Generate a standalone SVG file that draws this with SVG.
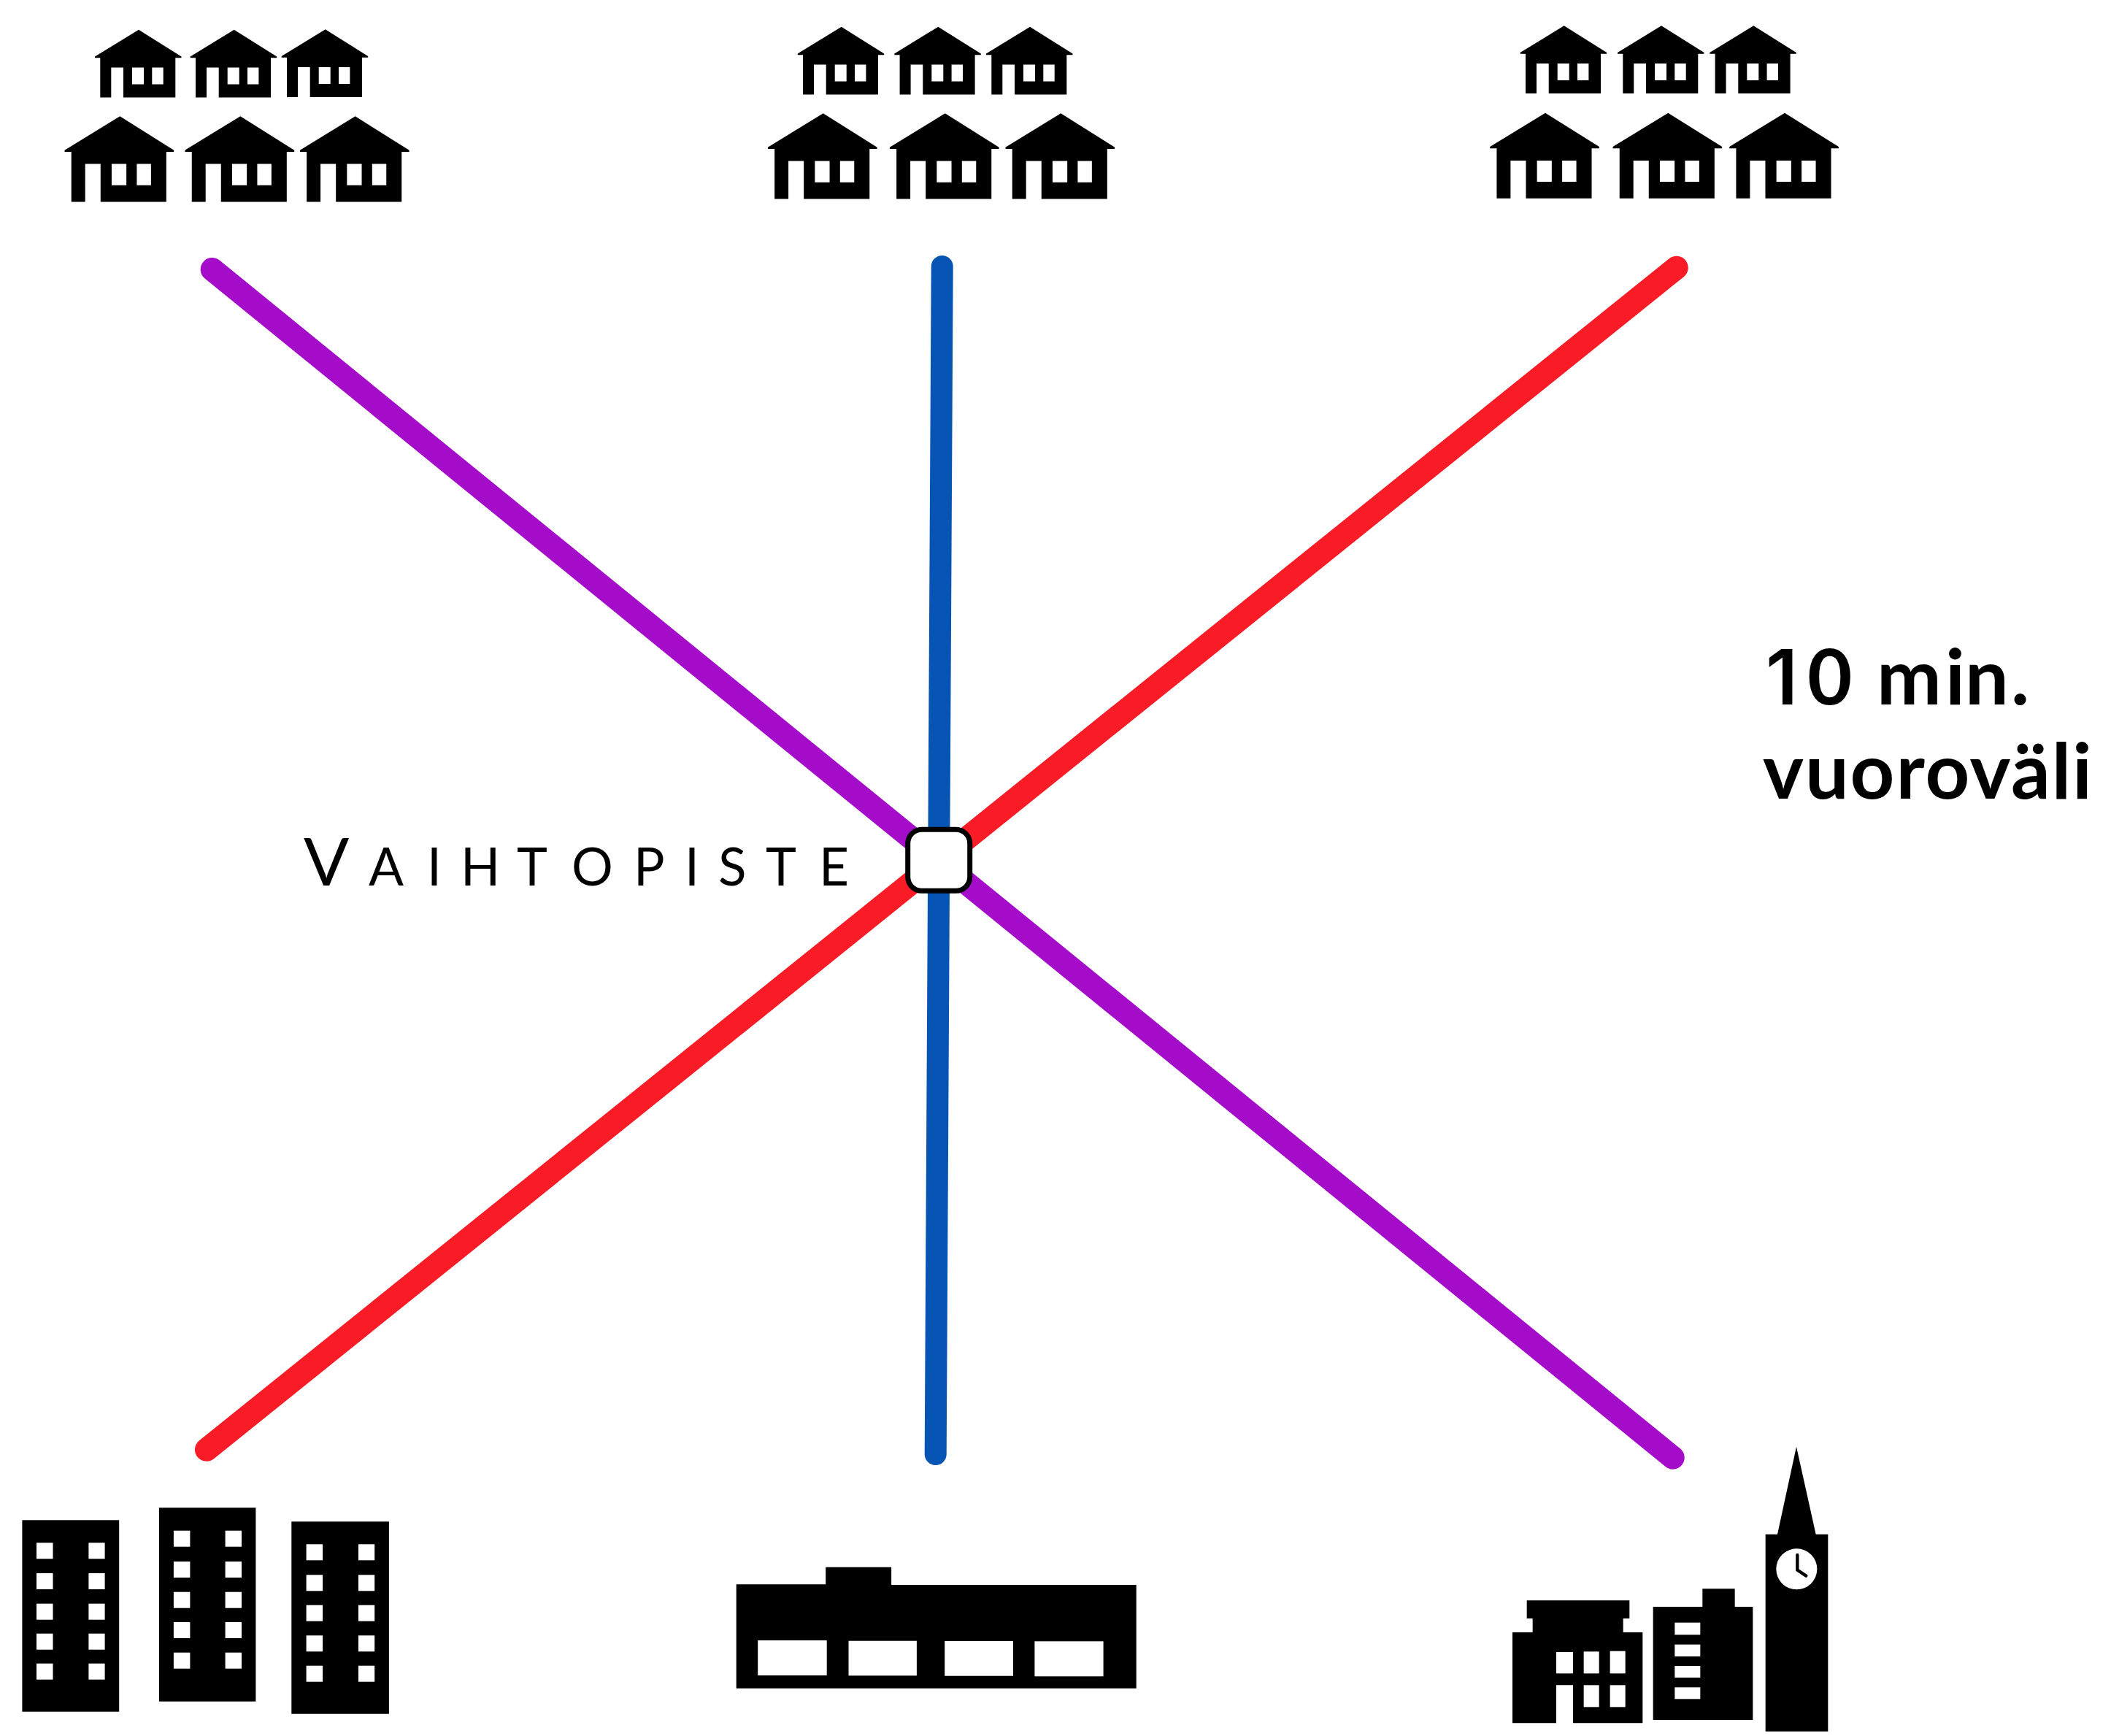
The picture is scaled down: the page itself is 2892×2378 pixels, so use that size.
<svg xmlns="http://www.w3.org/2000/svg" width="2892" height="2378" viewBox="0 0 2892 2378">
<style>
.k{fill:#000}
.w{fill:#fff}
.line{fill:none;stroke-width:32;stroke-linecap:round}
.lab{font-family:"Lato","Noto Sans",sans-serif;fill:#000}
.big{font-weight:700;font-size:106px}
.cap{font-size:71px;font-weight:400}
</style>
<defs>
<path id="house" fill-rule="evenodd" d="M0 0L58.5 36.7V38.5H50.3V92.7H-21V51.7H-37.7V92.7H-52.7V38.5H-60V36.7ZM-9 51.7V74.7H7V51.7ZM18.3 51.7V74.7H33.7V51.7Z"/>
</defs>
<rect width="2892" height="2378" fill="#fff"/>
<g id="connectors">
<line class="line" stroke="#a50cc9" x1="290.7" y1="369" x2="2291.7" y2="1996.7"/>
<line class="line" stroke="#f91b26" x1="2296.7" y1="366.7" x2="283" y2="1985.7"/>
<line class="line" style="stroke-width:30" stroke="#0654b4" x1="1290.7" y1="365" x2="1281.7" y2="1992"/>
</g>
<g id="station">
<rect x="1243.7" y="1136.3" width="85" height="84" rx="19" fill="#fff" stroke="#000" stroke-width="7"/>
</g>
<text id="station-label" class="lab cap" y="1213" x="416 505 585 631 708 783 868 938 984 1049 1122"><tspan font-size="92">V</tspan>AIHTOPISTE</text>
<g id="interval-label" class="lab big">
<text y="965"><tspan x="2419" font-family="Inter, sans-serif" font-weight="600" font-size="104">1</tspan><tspan x="2476 2560 2571 2665 2692 2755">0 min.</tspan></text>
<text x="2415" y="1094.3" textLength="451">vuoroväli</text>
</g>
<g id="houses-west">
<use href="#house" x="190" y="40.7"/><use href="#house" x="320.7" y="40.7"/><use href="#house" x="445.7" y="40.3"/>
<use href="#house" transform="translate(164.3 159.3) scale(1.263)"/><use href="#house" transform="translate(329.3 159.3) scale(1.263)"/><use href="#house" transform="translate(486.7 159.3) scale(1.263)"/>
</g>
<g id="houses-centre">
<use href="#house" x="1152.7" y="36.7"/><use href="#house" x="1285.3" y="36.7"/><use href="#house" x="1411" y="36.7"/>
<use href="#house" transform="translate(1127.7 155.3) scale(1.263)"/><use href="#house" transform="translate(1294.7 155.3) scale(1.263)"/><use href="#house" transform="translate(1453.3 155.3) scale(1.263)"/>
</g>
<g id="houses-east">
<use href="#house" x="2142.7" y="35.3"/><use href="#house" x="2276" y="35.3"/><use href="#house" x="2402.3" y="35.3"/>
<use href="#house" transform="translate(2117 154.7) scale(1.263)"/><use href="#house" transform="translate(2285.3 154.7) scale(1.263)"/><use href="#house" transform="translate(2445 154.7) scale(1.263)"/>
</g>
<g id="apartments">
<rect class="k" x="30.4" y="2082.3" width="132.8" height="262.4"/>
<g class="w">
<rect x="50" y="2113.3" width="22.5" height="22"/><rect x="121.4" y="2113.3" width="22.2" height="22"/>
<rect x="50" y="2155" width="22.5" height="22"/><rect x="121.4" y="2155" width="22.2" height="22"/>
<rect x="50" y="2196.7" width="22.5" height="22"/><rect x="121.4" y="2196.7" width="22.2" height="22"/>
<rect x="50" y="2237.7" width="22.5" height="22"/><rect x="121.4" y="2237.7" width="22.2" height="22"/>
<rect x="50" y="2278.7" width="22.5" height="22"/><rect x="121.4" y="2278.7" width="22.2" height="22"/>
</g>
<rect class="k" x="217.9" y="2065.3" width="132.5" height="265.4"/>
<g class="w">
<rect x="237.9" y="2096.7" width="22.5" height="22"/><rect x="308.6" y="2096.7" width="22.4" height="22"/>
<rect x="237.9" y="2139" width="22.5" height="22"/><rect x="308.6" y="2139" width="22.4" height="22"/>
<rect x="237.9" y="2180.7" width="22.5" height="22"/><rect x="308.6" y="2180.7" width="22.4" height="22"/>
<rect x="237.9" y="2222" width="22.5" height="22"/><rect x="308.6" y="2222" width="22.4" height="22"/>
<rect x="237.9" y="2263.7" width="22.5" height="22"/><rect x="308.6" y="2263.7" width="22.4" height="22"/>
</g>
<rect class="k" x="399.3" y="2084.3" width="133.6" height="263.4"/>
<g class="w">
<rect x="419.6" y="2115.3" width="22.5" height="22"/><rect x="491" y="2115.3" width="22.2" height="22"/>
<rect x="419.6" y="2157.3" width="22.5" height="22"/><rect x="491" y="2157.3" width="22.2" height="22"/>
<rect x="419.6" y="2198.7" width="22.5" height="22"/><rect x="491" y="2198.7" width="22.2" height="22"/>
<rect x="419.6" y="2240.3" width="22.5" height="22"/><rect x="491" y="2240.3" width="22.2" height="22"/>
<rect x="419.6" y="2281.7" width="22.5" height="22"/><rect x="491" y="2281.7" width="22.2" height="22"/>
</g>
</g>
<g id="shopping-centre">
<path class="k" d="M1008.7 2170.3H1131.2V2146.7H1221.1V2171H1556.7V2312.7H1008.7Z"/>
<g class="w">
<rect x="1038.2" y="2247" width="94.5" height="48"/>
<rect x="1162.5" y="2247.7" width="93.4" height="47.6"/>
<rect x="1294.2" y="2248" width="93.8" height="47.7"/>
<rect x="1417.4" y="2248.3" width="94.2" height="48"/>
</g>
</g>
<g id="city-centre" transform="translate(2040 1960) scale(0.33333)">
<path class="k" d="M155 697H577V771H551V828H631V1201H345V1045H276V1201H96V828H179V771H155Z"/>
<g class="w">
<rect x="276" y="909" width="69" height="88"/><rect x="389" y="907" width="63" height="90"/><rect x="497" y="905" width="63" height="92"/>
<rect x="389" y="1045" width="63" height="90"/><rect x="497" y="1045" width="63" height="90"/>
</g>
<path class="k" d="M674 723H877V649H1010V723H1084V1188H674Z"/>
<g class="w">
<rect x="763" y="788" width="105" height="50"/><rect x="763" y="878" width="105" height="49"/><rect x="763" y="966" width="105" height="48"/><rect x="763" y="1054" width="105" height="48"/>
</g>
<path class="k" d="M1136 425H1185L1263 65L1343 425H1393V1235H1136Z"/>
<circle class="w" cx="1264" cy="568" r="84"/>
<path d="M1267 510V572L1303 596" fill="none" stroke="#000" stroke-width="13" stroke-linecap="round"/>
</g>
</svg>
